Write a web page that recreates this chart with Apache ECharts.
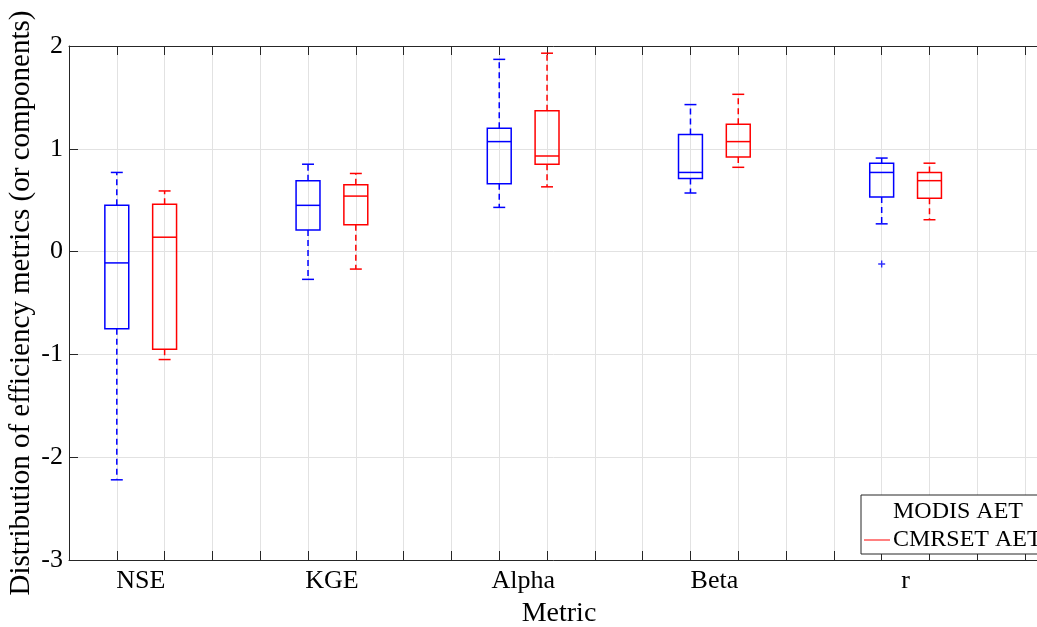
<!DOCTYPE html>
<html lang="en">
<head>
    <meta charset="UTF-8">
    <title>Efficiency metrics boxplot</title>
    <script src="https://cdn.jsdelivr.net/npm/echarts@6/dist/echarts.min.js"></script>
    <style>
        html, body { margin: 0; padding: 0; background: #fff; }
        #chart { width: 1037px; height: 627px; }
    </style>
</head>
<body>
<div id="chart"></div>
<script>
    // metrics on the x axis
    var metrics = ['NSE', 'KGE', 'Alpha', 'Beta', 'r'];

    // [lower whisker, q1, median, q3, upper whisker] per metric
    var modisStats = [
        [-2.22, -0.75, -0.11, 0.45, 0.77],
        [-0.27, 0.21, 0.45, 0.69, 0.85],
        [0.43, 0.66, 1.07, 1.20, 1.87],
        [0.57, 0.71, 0.77, 1.14, 1.43],
        [0.27, 0.53, 0.77, 0.86, 0.91]
    ];
    var cmrsetStats = [
        [-1.05, -0.95, 0.14, 0.46, 0.59],
        [-0.17, 0.26, 0.54, 0.65, 0.76],
        [0.63, 0.85, 0.93, 1.37, 1.93],
        [0.82, 0.92, 1.07, 1.24, 1.53],
        [0.31, 0.52, 0.69, 0.77, 0.86]
    ];
    // outliers: [metric index, value]
    var modisOutliers = [[4, -0.12]];
    var cmrsetOutliers = [];

    var yTicks = [-3, -2, -1, 0, 1, 2];

    var FONT = 'Liberation Serif';
    var AXIS = '#262626';

    function posOf(i, k) { return 1 + 4 * i + k; }

    function boxData(stats, k) {
        return stats.map(function (s, i) {
            return [posOf(i, k)].concat(s);
        });
    }

    function outlierData(list, k) {
        return list.map(function (o) { return [posOf(o[0], k), o[1]]; });
    }

    function renderBox(params, api) {
        var x = api.value(0);
        var lo = api.coord([x, api.value(1)]);
        var q1 = api.coord([x, api.value(2)]);
        var md = api.coord([x, api.value(3)]);
        var q3 = api.coord([x, api.value(4)]);
        var hi = api.coord([x, api.value(5)]);
        var half = api.size([0.5, 0])[0] / 2;
        var cap = api.size([0.25, 0])[0] / 2;
        var color = api.visual('color');
        var solid = { stroke: color, lineWidth: 1.5, fill: null };
        var dash = { stroke: color, lineWidth: 1.5, lineDash: [6, 4] };
        var cx = lo[0];
        return {
            type: 'group',
            children: [
                { type: 'line', shape: { x1: cx, y1: q3[1], x2: cx, y2: hi[1] }, style: dash },
                { type: 'line', shape: { x1: cx, y1: q1[1], x2: cx, y2: lo[1] }, style: dash },
                { type: 'line', shape: { x1: cx - cap, y1: hi[1], x2: cx + cap, y2: hi[1] }, style: solid },
                { type: 'line', shape: { x1: cx - cap, y1: lo[1], x2: cx + cap, y2: lo[1] }, style: solid },
                { type: 'rect', shape: { x: cx - half, y: q3[1], width: half * 2, height: q1[1] - q3[1] }, style: solid },
                { type: 'line', shape: { x1: cx - half, y1: md[1], x2: cx + half, y2: md[1] }, style: solid }
            ]
        };
    }

    var plusPath = 'path://M4,0H6V4H10V6H6V10H4V6H0V4H4Z';

    var chart = echarts.init(document.getElementById('chart'));

    var option = {
        animation: false,
        backgroundColor: '#fff',
        grid: { left: 69, right: -12, top: 46, bottom: 67, containLabel: false, outerBoundsMode: 'none' },
        legend: {
            orient: 'vertical',
            left: 861,
            top: 495,
            padding: [5, 20, 2, 3],
            itemGap: 4,
            itemWidth: 26,
            itemHeight: 1,
            icon: 'rect',
            borderColor: AXIS,
            borderWidth: 1,
            backgroundColor: '#fff',
            textStyle: { fontFamily: FONT, fontSize: 24, color: '#000', padding: [0, 0, 0, -2] },
            data: [
                { name: 'MODIS AET', itemStyle: { color: 'rgba(0,0,0,0)' } },
                { name: 'CMRSET AET', itemStyle: { color: '#ff0000' } }
            ]
        },
        xAxis: [
            {
                type: 'value', min: 0, max: 20.5, interval: 1, position: 'bottom',
                axisLine: { show: true, onZero: false, lineStyle: { color: AXIS, width: 1 } },
                axisTick: { show: true, inside: true, length: 9, lineStyle: { color: AXIS } },
                axisLabel: { show: false },
                splitLine: { show: true, lineStyle: { color: '#e2e2e2', width: 1 } },
                name: 'Metric', nameLocation: 'middle', nameGap: 40, nameMoveOverlap: false,
                nameTextStyle: { fontFamily: FONT, fontSize: 28, color: '#000' }
            },
            {
                type: 'value', min: 0, max: 20.5, interval: 1, position: 'top',
                axisLine: { show: true, onZero: false, lineStyle: { color: AXIS, width: 1 } },
                axisTick: { show: true, inside: true, length: 9, lineStyle: { color: AXIS } },
                axisLabel: { show: false },
                splitLine: { show: false }
            },
            {
                type: 'value', min: 0, max: 20.5, interval: 0.5, position: 'bottom',
                axisLine: { show: false, onZero: false },
                axisTick: { show: false },
                splitLine: { show: false },
                axisLabel: {
                    show: true, margin: 8,
                    fontFamily: FONT, fontSize: 26, color: '#000',
                    formatter: function (v) {
                        var i = (v - 1.5) / 4;
                        return (Math.abs(i - Math.round(i)) < 1e-6 && metrics[Math.round(i)]) ? metrics[Math.round(i)] : '';
                    }
                }
            }
        ],
        yAxis: [
            {
                type: 'value', min: yTicks[0], max: yTicks[yTicks.length - 1], interval: 1,
                axisLine: { show: true, lineStyle: { color: AXIS, width: 1 } },
                axisTick: { show: true, inside: true, length: 9, lineStyle: { color: AXIS } },
                axisLabel: { fontFamily: FONT, fontSize: 26, color: '#000', margin: 6 },
                splitLine: { show: true, lineStyle: { color: '#e2e2e2', width: 1 } },
                name: 'Distribution of efficiency metrics (or components)',
                nameLocation: 'middle', nameGap: 33, nameRotate: 90, nameMoveOverlap: false,
                nameTextStyle: { fontFamily: FONT, fontSize: 29, color: '#000' }
            }
        ],
        series: [
            {
                name: 'MODIS AET', type: 'custom', renderItem: renderBox,
                xAxisIndex: 0, yAxisIndex: 0,
                itemStyle: { color: '#0000ff' },
                encode: { x: 0, y: [1, 2, 3, 4, 5] },
                data: boxData(modisStats, 0), z: 3
            },
            {
                name: 'CMRSET AET', type: 'custom', renderItem: renderBox,
                xAxisIndex: 0, yAxisIndex: 0,
                itemStyle: { color: '#ff0000' },
                encode: { x: 0, y: [1, 2, 3, 4, 5] },
                data: boxData(cmrsetStats, 1), z: 3
            },
            {
                name: 'MODIS outliers', type: 'scatter', symbol: plusPath, symbolSize: 7,
                itemStyle: { color: '#0000ff' },
                data: outlierData(modisOutliers, 0), z: 3
            },
            {
                name: 'CMRSET outliers', type: 'scatter', symbol: plusPath, symbolSize: 7,
                itemStyle: { color: '#ff0000' },
                data: outlierData(cmrsetOutliers, 1), z: 3
            }
        ]
    };

    chart.setOption(option);
</script>
</body>
</html>
